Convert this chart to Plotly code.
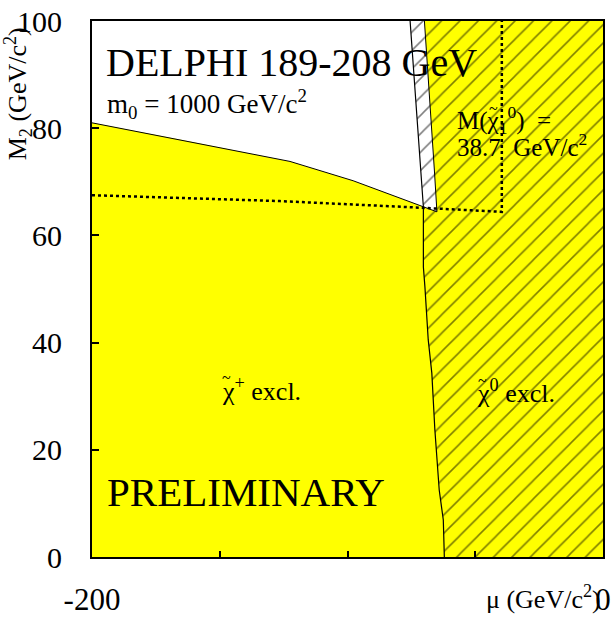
import plotly.graph_objects as go

# ---- data (mu in GeV/c^2, M2 in GeV/c^2) ----
# chargino exclusion boundary (top edge of the yellow area) and the strip edge going up
charg_mu = [-200.0, -161.6, -122.5, -97.8, -70.4, -65.0, -66.0, -69.9]
charg_m2 = [81.0, 77.5, 73.8, 70.2, 65.4, 64.4, 72.2, 100.0]

# neutralino exclusion boundary (left edge of the hatched area)
neut_mu = [-75.5, -71.2, -70.3, -70.3, -69.7, -68.4, -67.0, -65.8, -64.1, -62.5, -62.1]
neut_m2 = [100.0, 72.2, 65.3, 54.1, 50.4, 40.5, 34.3, 23.7, 12.5, 6.9, 0.0]

# dotted line: M(chi1_0) = 38.7 GeV/c^2
lsp_mu = [-200.0, -126.4, -81.4, -59.9, -39.6, -39.6]
lsp_m2 = [67.5, 66.4, 65.4, 64.9, 64.4, 100.0]

x_range = [-200, 0]
y_range = [0, 100]
x_ticks = [-200, -150, -100, -50, 0]
x_ticktext = ["-200", "", "", "", "0"]
y_ticks = [0, 20, 40, 60, 80, 100]

SERIF = "Liberation Serif, Times New Roman, serif"
YELLOW = "#FFFF00"

fig = go.Figure()

# yellow chargino-excluded area
ym = [x_range[0]] + charg_mu + [x_range[1], x_range[1], x_range[0]]
yv = [y_range[0]] + charg_m2 + [y_range[1], y_range[0], y_range[0]]
fig.add_trace(go.Scatter(x=ym, y=yv, fill="toself", fillcolor=YELLOW,
                         mode="lines", line=dict(width=0), hoverinfo="skip",
                         showlegend=False))

# hatched neutralino-excluded area
hm = neut_mu + [x_range[1], x_range[1], neut_mu[0]]
hv = neut_m2 + [y_range[0], y_range[1], neut_m2[0]]
fig.add_trace(go.Scatter(x=hm, y=hv, fill="toself", fillcolor="rgba(0,0,0,0)",
                         fillpattern=dict(shape="/", size=13, solidity=0.12,
                                          fgcolor="black", bgcolor="rgba(0,0,0,0)"),
                         mode="lines", line=dict(width=0), hoverinfo="skip",
                         showlegend=False))

# boundary lines
fig.add_trace(go.Scatter(x=charg_mu, y=charg_m2, mode="lines",
                         line=dict(color="black", width=1), hoverinfo="skip",
                         showlegend=False))
fig.add_trace(go.Scatter(x=neut_mu, y=neut_m2, mode="lines",
                         line=dict(color="black", width=1.2), hoverinfo="skip",
                         showlegend=False))
fig.add_trace(go.Scatter(x=lsp_mu, y=lsp_m2, mode="lines",
                         line=dict(color="black", width=2.5, dash="3px,3px"),
                         hoverinfo="skip", showlegend=False))

def ann(x, y, text, size, xanchor="left", xref="x", yref="y", angle=0, yanchor="middle"):
    fig.add_annotation(x=x, y=y, xref=xref, yref=yref, text=text, showarrow=False,
                       xanchor=xanchor, yanchor=yanchor, textangle=angle,
                       font=dict(family=SERIF, size=size, color="black"))

ann(-195.5, 92.3, "DELPHI 189-208 GeV", 40)
ann(-195.0, 84.6, "m<sub>0</sub> = 1000 GeV/c<sup>2</sup>", 27)
ann(-58.0, 81.6, "M(χ<sub>1</sub><sup>0</sup>)  =", 25)
ann(-45.3, 83.6, "~", 16)
ann(-58.0, 76.8, "38.7  GeV/c<sup>2</sup>", 25)
ann(-150.0, 31.2, "χ<sup>+</sup> excl.", 26)
ann(-149.8, 33.4, "~", 16)
ann(-50.0, 30.8, "χ<sup>0</sup> excl.", 26)
ann(-49.8, 33.0, "~", 16)
ann(-195.0, 12.2, "PRELIMINARY", 41)

# axis titles
ann(1.0, -0.075, "μ (GeV/c<sup>2</sup>)", 26, xanchor="right", xref="paper", yref="paper")
ann(-0.145, 0.865, "M<sub>2</sub> (GeV/c<sup>2</sup>)", 26, xanchor="center",
    xref="paper", yref="paper", angle=-90)

fig.update_xaxes(range=x_range, tickvals=x_ticks, ticktext=x_ticktext,
                 ticks="inside", ticklen=6, tickwidth=1.5, tickcolor="black",
                 showline=True, linewidth=2, linecolor="black", mirror=True,
                 showgrid=False, zeroline=False, ticklabelstandoff=14,
                 automargin=False,
                 tickfont=dict(family=SERIF, size=31, color="black"))
fig.update_yaxes(range=y_range, tickvals=y_ticks,
                 ticks="inside", ticklen=7, tickwidth=1.5, tickcolor="black",
                 showline=True, linewidth=2, linecolor="black", mirror=True,
                 showgrid=False, zeroline=False, ticklabelstandoff=22,
                 automargin=False,
                 tickfont=dict(family=SERIF, size=30, color="black"))

fig.update_layout(width=612, height=619,
                  margin=dict(l=92, r=9, t=21, b=62, pad=0, autoexpand=False),
                  paper_bgcolor="white", plot_bgcolor="white",
                  showlegend=False)

fig.write_html("out.html")
